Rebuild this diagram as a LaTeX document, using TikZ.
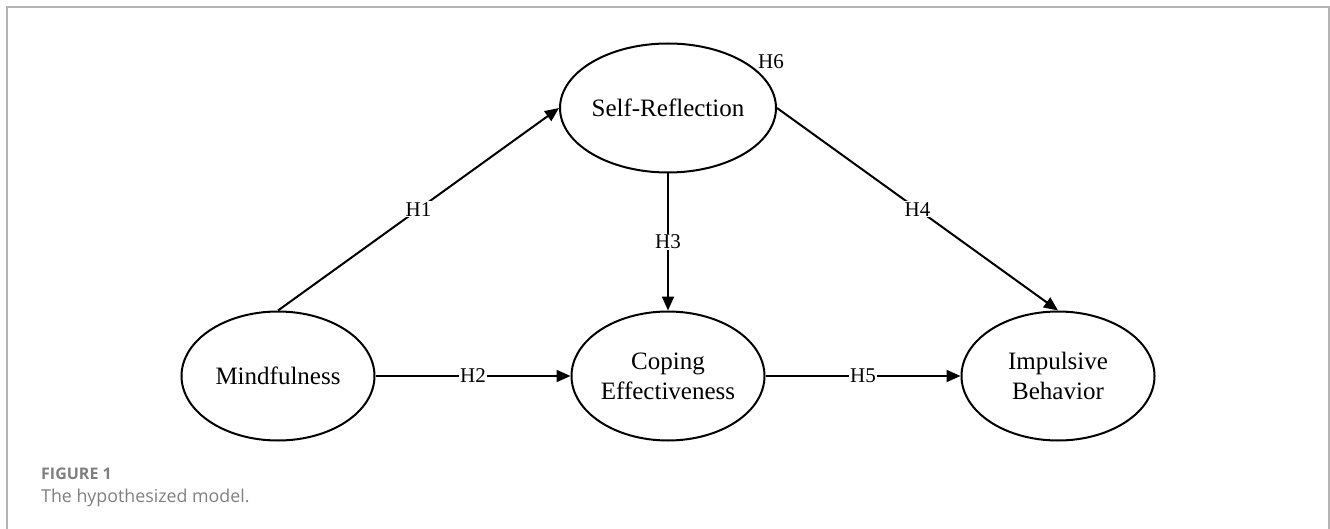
\documentclass[tikz,border=0pt]{standalone}
\usepackage{fontspec}
\setmainfont{Liberation Serif}
\newfontfamily\capfont{Open Sans}
\usetikzlibrary{shapes.geometric,arrows.meta}
\definecolor{framegray}{HTML}{B4B4B4}
\definecolor{capgray}{HTML}{7F7F7F}

\begin{document}
\begin{tikzpicture}[x=1pt,y=-1pt,
    latent/.style={ellipse, draw, line width=2pt, minimum width=193pt, minimum height=129pt,
      inner sep=0pt, align=center, font=\fontsize{25}{30}\selectfont},
    hpath/.style={line width=2pt, -{Triangle[length=14pt,width=12pt]}},
    hlabel/.style={fill=white, inner sep=1pt, font=\fontsize{21}{24}\selectfont}]

   \useasboundingbox (0,0) rectangle (1330,529);

   % Frame
   \draw[framegray, line width=2pt] (7,529) -- (7,7) -- (1329,7) -- (1329,529);

   % Constructs
   \node[latent] (sr) at (668,108) {Self-Reflection};
   \node[latent] (mf) at (278,376) {Mindfulness};
   \node[latent] (ce) at (668,376) {Coping\\Effectiveness};
   \node[latent] (ib) at (1058,376) {Impulsive\\Behavior};

   % Hypotheses
   \draw[hpath] (mf.north) -- node[hlabel]{H1} (sr.west);
   \draw[hpath] (mf.east) -- node[hlabel]{H2} (ce.west);
   \draw[hpath] (sr.south) -- node[hlabel]{H3} (ce.north);
   \draw[hpath] (sr.east) -- node[hlabel]{H4} (ib.north);
   \draw[hpath] (ce.east) -- node[hlabel]{H5} (ib.west);
   \node[hlabel] (h6) at (771,62) {H6};

   % Caption
   \node[anchor=base west, inner sep=0pt, text=capgray, font=\capfont\bfseries\fontsize{16}{19}\selectfont]
     (fig) at (41,479) {FIGURE 1};
   \node[anchor=base west, inner sep=0pt, text=capgray, font=\capfont\fontsize{17.8}{21}\selectfont]
     (cap) at (41,502) {The hypothesized model.};

\end{tikzpicture}
\end{document}
